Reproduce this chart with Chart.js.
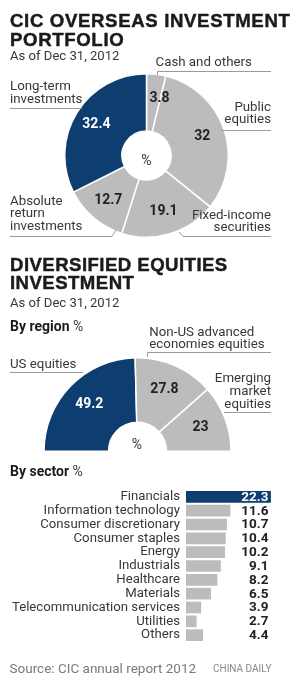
<!DOCTYPE html>
<html>
<head>
<meta charset="utf-8">
<script src="https://cdn.jsdelivr.net/npm/chart.js@4.4.1/dist/chart.umd.min.js"></script>
<style>
html, body { margin: 0; padding: 0; background: #fff; }
#page { position: relative; width: 297px; height: 681px; overflow: hidden; color: #333; }
#page canvas { position: absolute; }
.t { position: absolute; white-space: nowrap; z-index: 2; }
.hd { -webkit-text-stroke: 0.45px #1b1b1b; }
#rules { position: absolute; left: 0; top: 0; z-index: 1; }
</style>
</head>
<body>
<div id="page">
	<canvas id="portfolio" width="165" height="165" style="left:64px;top:73px"></canvas>
	<canvas id="regions" width="189" height="95" style="left:43px;top:357px"></canvas>
	<canvas id="sectors" width="297" height="180" style="left:0;top:476px"></canvas>
	<svg id="rules" width="297" height="681" fill="none" stroke="#9b9b9b" stroke-width="1">
		<path d="M157.5 75 V71.5 H271" />
		<path d="M10 108.5 H82" />
		<path d="M221 130.5 H271" />
		<path d="M10 236.5 H112 L116 230" />
		<path d="M179 232 L183 236.5 H271" />
		<path d="M147.5 357 V352.5 H271" />
		<path d="M10 372.5 H83" />
		<path d="M224 412.5 H271" />
	</svg>
</div>
<script>
'use strict';

// CIC overseas investment portfolio, % (clockwise from top)
const portfolioLabels = ['Cash and others', 'Public equities', 'Fixed-income securities', 'Absolute return investments', 'Long-term investments'];
const portfolioValues = [3.8, 32, 19.1, 12.7, 32.4];

// diversified equities by region, %
const regionLabels = ['US equities', 'Non-US advanced economies equities', 'Emerging market equities'];
const regionValues = [49.2, 27.8, 23];

// by sector, %
const sectorLabels = ['Financials', 'Information technology', 'Consumer discretionary', 'Consumer staples', 'Energy',
	'Industrials', 'Healthcare', 'Materials', 'Telecommunication services', 'Utilities', 'Others'];
const sectorValues = [22.3, 11.6, 10.7, 10.4, 10.2, 9.1, 8.2, 6.5, 3.9, 2.7, 4.4];
const sectorMax = 24;

const NAVY = '#0e3e6f';
const GRAY = '#bdbcbc';
const BODY = 'Roboto, "Noto Sans", sans-serif';
const HEAD = '"Liberation Sans", Arial, sans-serif';

const page = document.getElementById('page');
const mctx = document.createElement('canvas').getContext('2d');

// place a text block so its first baseline sits at y
const addText = function (html, x, y, opts) {
	const o = Object.assign({ size: 13.3, weight: 400, family: BODY, lh: 12.4, align: 'left', color: '#383838', spacing: 0 }, opts);
	const font = o.weight + ' ' + o.size + 'px ' + o.family;
	mctx.font = font;
	const m = mctx.measureText('Hg');
	const off = (o.lh - (m.fontBoundingBoxAscent + m.fontBoundingBoxDescent)) / 2 + m.fontBoundingBoxAscent;
	const el = document.createElement('div');
	el.className = 't' + (o.cls ? ' ' + o.cls : '');
	el.innerHTML = html;
	el.style.font = font;
	el.style.lineHeight = o.lh + 'px';
	el.style.color = o.color;
	el.style.letterSpacing = o.spacing + 'px';
	el.style.top = (y - off) + 'px';
	if (o.align === 'right') {
		el.style.right = (297 - x) + 'px';
		el.style.textAlign = 'right';
	} else if (o.align === 'center') {
		el.style.left = x + 'px';
		el.style.transform = 'translateX(-50%)';
		el.style.textAlign = 'center';
	} else {
		el.style.left = x + 'px';
	}
	page.appendChild(el);
};

const head = { size: 18.6, weight: 700, family: HEAD, lh: 19, color: '#1b1b1b', spacing: 0.65, cls: 'hd' };
addText('CIC OVERSEAS INVESTMENT<br>PORTFOLIO', 10, 26.7, head);
addText('As of Dec 31, 2012', 10, 60.5, { size: 13.1 });
addText('Cash and others', 155.5, 66.5, {});
addText('Long-term<br>investments', 10, 91, {});
addText('Public<br>equities', 271, 111.3, { align: 'right' });
addText('%', 146.5, 165, { size: 14, align: 'center' });
addText('Absolute<br>return<br>investments', 10, 205.7, { lh: 12.5 });
addText('Fixed-income<br>securities', 271, 219, { align: 'right', lh: 12 });

addText('DIVERSIFIED EQUITIES<br>INVESTMENT', 10, 271.7, Object.assign({}, head, { spacing: 0.45, lh: 18.3 }));
addText('As of Dec 31, 2012', 10, 307.5, { size: 13.1 });
addText('<b style="font-weight:700;color:#1b1b1b">By region</b> %', 10, 331, { size: 14 });
addText('Non-US advanced<br>economies equities', 149.3, 336.7, {});
addText('US equities', 10, 368.3, {});
addText('Emerging<br>market<br>equities', 271, 381.7, { align: 'right', lh: 13 });
addText('%', 137, 448.7, { size: 14, align: 'center' });
addText('<b style="font-weight:700;color:#1b1b1b">By sector</b> %', 10, 476, { size: 14 });

addText('Source: CIC annual report 2012', 9.5, 672.7, { size: 13.5, color: '#7a7a7a' });
addText('CHINA DAILY', 271.5, 672.3, { size: 10, weight: 400, color: '#8a8a8a', align: 'right' });

// value labels on the slices, kept clear of the slice's leading edge
const sliceValues = {
	id: 'sliceValues',
	afterDatasetsDraw(chart) {
		const ctx = chart.ctx;
		const ds = chart.data.datasets[0];
		ctx.save();
		ctx.font = 'bold 14px ' + BODY;
		ctx.textAlign = 'center';
		ctx.textBaseline = 'middle';
		chart.getDatasetMeta(0).data.forEach(function (arc, i) {
			const p = arc.getProps(['x', 'y', 'startAngle', 'endAngle', 'outerRadius'], true);
			const text = String(ds.data[i]);
			const r = p.outerRadius * 0.72;
			const half = ctx.measureText(text).width / 2 + 3;
			const a = Math.max((p.startAngle + p.endAngle) / 2, p.startAngle + Math.asin(Math.min(1, half / r)));
			ctx.fillStyle = ds.backgroundColor[i] === NAVY ? '#fff' : '#222';
			ctx.fillText(text, p.x + Math.cos(a) * r, p.y + Math.sin(a) * r);
		});
		ctx.restore();
	},
};

// value labels at the end of the bar rows
const barValues = {
	id: 'barValues',
	afterDatasetsDraw(chart) {
		const ctx = chart.ctx;
		const ds = chart.data.datasets[0];
		const x = chart.chartArea.right - 8.5;
		ctx.save();
		ctx.font = 'bold 13.5px ' + BODY;
		ctx.textAlign = 'right';
		ctx.textBaseline = 'middle';
		chart.getDatasetMeta(0).data.forEach(function (bar, i) {
			ctx.fillStyle = i === 0 ? '#fff' : '#222';
			ctx.fillText(ds.data[i].toFixed(1), x, bar.y + 0.5);
		});
		ctx.restore();
	},
};

const pieOptions = {
	responsive: false,
	animation: false,
	events: [],
	layout: { padding: 0 },
	plugins: { legend: { display: false }, tooltip: { enabled: false } },
};

new Chart(document.getElementById('portfolio'), {
	type: 'doughnut',
	data: {
		labels: portfolioLabels,
		datasets: [{
			data: portfolioValues,
			backgroundColor: portfolioLabels.map((l) => (l === 'Long-term investments' ? NAVY : GRAY)),
			borderColor: '#fff',
			borderWidth: 1.5,
		}],
	},
	options: Object.assign({ cutout: '30%' }, pieOptions),
	plugins: [sliceValues],
});

new Chart(document.getElementById('regions'), {
	type: 'doughnut',
	data: {
		labels: regionLabels,
		datasets: [{
			data: regionValues,
			backgroundColor: regionLabels.map((l) => (l === 'US equities' ? NAVY : GRAY)),
			borderColor: '#fff',
			borderWidth: 1.5,
		}],
	},
	options: Object.assign({ cutout: '31%', rotation: -90, circumference: 180 }, pieOptions),
	plugins: [sliceValues],
});

new Chart(document.getElementById('sectors'), {
	type: 'bar',
	data: {
		labels: sectorLabels,
		datasets: [{
			data: sectorValues,
			backgroundColor: sectorValues.map((v, i) => (i === 0 ? NAVY : GRAY)),
			borderWidth: 0,
			barThickness: 11,
		}],
	},
	options: {
		indexAxis: 'y',
		responsive: false,
		animation: false,
		events: [],
		layout: { padding: { left: 0, right: 20, top: 0, bottom: 0 } },
		scales: {
			x: { display: false, min: 0, max: sectorMax },
			y: {
				grid: { display: false, drawTicks: false },
				border: { display: false },
				ticks: {
					autoSkip: false,
					padding: 6,
					color: '#383838',
					font: { family: BODY, size: 13.2, weight: 400 },
				},
				afterFit(scale) {
					scale.width = 186;
				},
			},
		},
		plugins: { legend: { display: false }, tooltip: { enabled: false } },
	},
	plugins: [barValues],
});
</script>
</body>
</html>
